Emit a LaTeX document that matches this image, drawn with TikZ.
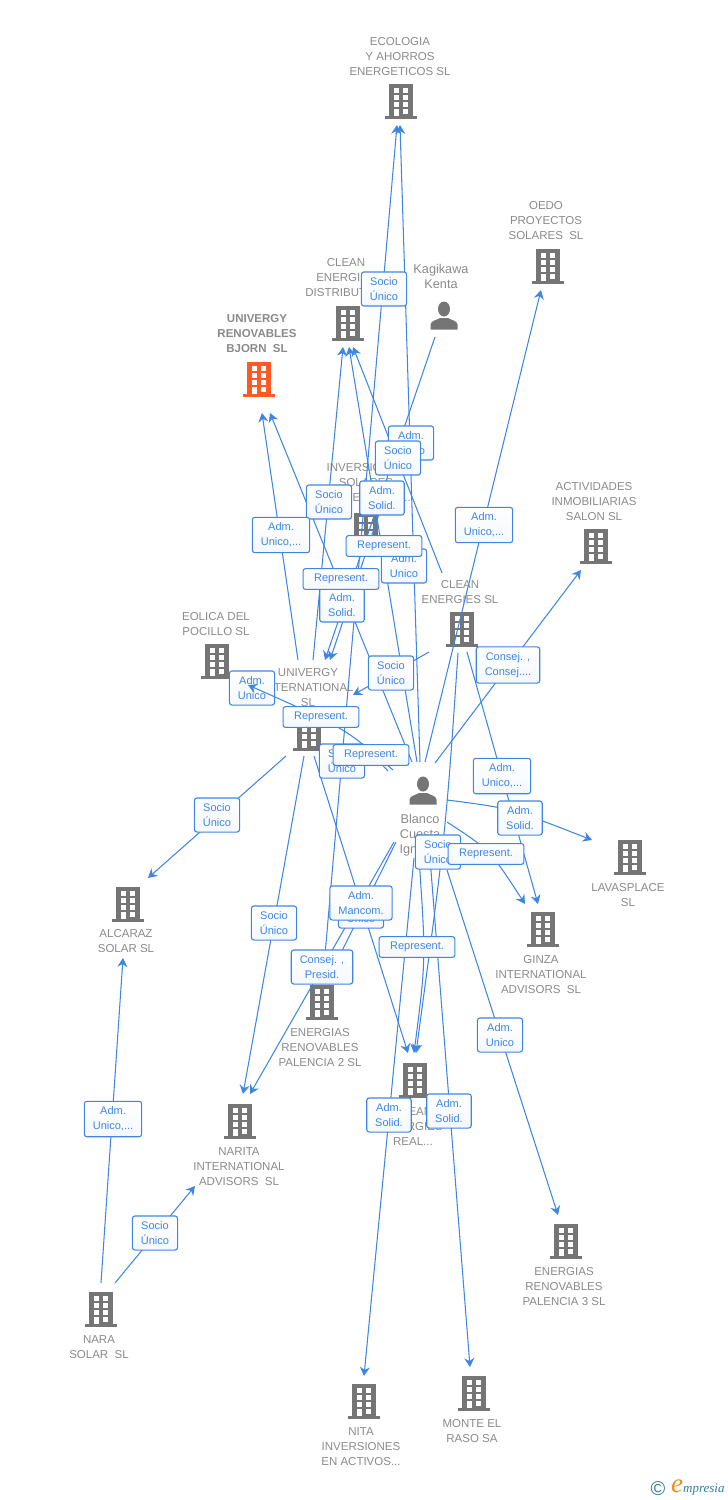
\documentclass[tikz,border=0pt]{standalone}
\usepackage{fontspec}
\setmainfont{Liberation Sans}
\newfontfamily\logofont{Liberation Serif}
\usetikzlibrary{arrows.meta}
\definecolor{linkblue}{HTML}{3F86E3}
\definecolor{iconhgray}{HTML}{757575}
\definecolor{texthgray}{HTML}{8A8A8A}
\definecolor{mainorange}{HTML}{FF5A26}
\definecolor{logoteal}{HTML}{2F7F9B}
\definecolor{logoorange}{HTML}{F08A1D}
\tikzset{
  entity/.style={text=texthgray,align=center,inner sep=0pt,font=\fontsize{11.5}{15}\selectfont},
  link/.style={draw=linkblue,line width=1.05pt},
  linkarrow/.style={link,-{Stealth[length=9pt,width=10pt,inset=3pt]}},
  tag/.style={draw=linkblue,line width=1.1pt,rounded corners=2.5pt,top color=white,bottom color=white!94!linkblue,
    text=linkblue,align=center,inner xsep=8.5pt,inner ysep=5.5pt,font=\fontsize{11}{15}\selectfont},
  tagwide/.style={tag,inner xsep=11pt},
  building/.pic={
    \fill (-12,-17) rectangle (12,15);
    \fill (-16,15) rectangle (16,17.5);
    \foreach \r in {-13,-6,1} {
      \fill[white] (-7,\r) rectangle (-2,\r+4.5);
      \fill[white] (2,\r) rectangle (7,\r+4.5);
    }
    \fill[white] (-7,8) rectangle (-2,15);
    \fill[white] (2,8) rectangle (7,12.5);
  },
  person/.pic={
    \fill (0,-7) ellipse (6 and 7.5);
    \fill (-13.5,13.5) -- (-13.5,8.5) .. controls (-13,4.5) and (-7,4) .. (-4,2) -- (4,2) .. controls (7,4) and (13,4.5) .. (13.5,8.5) -- (13.5,13.5) -- cycle;
  }
}
\begin{document}
\begin{tikzpicture}[x=1pt,y=-1pt]
  \useasboundingbox (0,0) rectangle (728,1500);
  % icons
  \pic[iconhgray] at (401,101) {building};
  \pic[iconhgray] at (548,266) {building};
  \pic[iconhgray] at (348,323) {building};
  \pic[iconhgray] at (444,316) {person};
  \pic[mainorange] at (259,379) {building};
  \pic[iconhgray] at (366,530) {building};
  \pic[iconhgray] at (596,546) {building};
  \pic[iconhgray] at (462,629) {building};
  \pic[iconhgray] at (217,661) {building};
  \pic[iconhgray] at (309,733) {building};
  \pic[iconhgray] at (423,791) {person};
  \pic[iconhgray] at (630,857) {building};
  \pic[iconhgray] at (128,904) {building};
  \pic[iconhgray] at (543,929) {building};
  \pic[iconhgray] at (322,1002) {building};
  \pic[iconhgray] at (415,1080) {building};
  \pic[iconhgray] at (240,1121) {building};
  \pic[iconhgray] at (566,1241) {building};
  \pic[iconhgray] at (101,1309) {building};
  \pic[iconhgray] at (364,1401) {building};
  \pic[iconhgray] at (474,1393) {building};
  % names
  \node[entity] (ecologia) at (400,57) {ECOLOGIA\\Y AHORROS\\ENERGETICOS SL};
  \node[entity] (oedo) at (546,221) {OEDO\\PROYECTOS\\SOLARES\ \ SL};
  \node[entity] (cleandist) at (346,278) {CLEAN\\ENERGIES\\DISTRIBUTION};
  \node[entity,font=\fontsize{12.7}{15}\selectfont] (kagikawa) at (441,276.5) {Kagikawa\\Kenta};
  \node[entity,font=\fontsize{11.5}{15}\selectfont\bfseries] (bjorn) at (257,334) {UNIVERGY\\RENOVABLES\\BJORN\ \ SL};
  \node[entity] (inversiones) at (366,483) {INVERSIONES\\SOLARES\\SOSTENIBLES...};
  \node[entity] (actividades) at (594,502) {ACTIVIDADES\\INMOBILIARIAS\\SALON SL};
  \node[entity] (cleanenergies) at (460,592.5) {CLEAN\\ENERGIES SL};
  \node[entity] (eolica) at (216,624.5) {EOLICA DEL\\POCILLO SL};
  \node[entity] (univergy) at (308,688) {UNIVERGY\\INTERNATIONAL\\SL};
  \node[entity,font=\fontsize{12.7}{15}\selectfont] (blanco) at (420,835) {Blanco\\Cuesta\\Ignacio};
  \node[entity] (lavasplace) at (628,895.5) {LAVASPLACE\\SL};
  \node[entity] (alcaraz) at (126,941.5) {ALCARAZ\\SOLAR SL};
  \node[entity] (ginza) at (541,975) {GINZA\\INTERNATIONAL\\ADVISORS\ \ SL};
  \node[entity] (energias2) at (320,1048) {ENERGIAS\\RENOVABLES\\PALENCIA 2 SL};
  \node[entity] (cleanreal) at (413,1126) {CLEAN\\ENERGIES\\REAL...};
  \node[entity] (narita) at (239,1167) {NARITA\\INTERNATIONAL\\ADVISORS\ \ SL};
  \node[entity] (energias3) at (564,1287) {ENERGIAS\\RENOVABLES\\PALENCIA 3 SL};
  \node[entity] (nara) at (99,1347.5) {NARA\\SOLAR\ \ SL};
  \node[entity] (nita) at (361,1447) {NITA\\INVERSIONES\\EN ACTIVOS...};
  \node[entity] (monte) at (472,1431.5) {MONTE EL\\RASO SA};
  % connector ends
  \coordinate (ecoTipA) at (397,125);
  \coordinate (ecoTipB) at (400,125);
  \coordinate (oedoTip) at (541,290);
  \coordinate (distTipA) at (343,347);
  \coordinate (distTipB) at (349,347);
  \coordinate (distTipC) at (353,347);
  \coordinate (bjornTipA) at (262,413);
  \coordinate (bjornTipB) at (270,413);
  \coordinate (actTip) at (581,570);
  \coordinate (uniTipA) at (325,660);
  \coordinate (uniTipB) at (330,660);
  \coordinate (uniTipC) at (353,695);
  \coordinate (eolTip) at (248,685);
  \coordinate (lavaTip) at (592,840);
  \coordinate (alcTip) at (123,958);
  \coordinate (alcUni) at (148,878);
  \coordinate (ginTipA) at (525,904);
  \coordinate (ginTipB) at (538,904);
  \coordinate (ener2End) at (330,975);
  \coordinate (ener2Up) at (323,978);
  \coordinate (realTipA) at (408,1053);
  \coordinate (realTipB) at (414,1053);
  \coordinate (realTipC) at (416,1053);
  \coordinate (narTipA) at (243,1094);
  \coordinate (narTipB) at (250,1094);
  \coordinate (narTipC) at (195,1186);
  \coordinate (ener3Tip) at (558,1215);
  \coordinate (nitaTip) at (364,1376);
  \coordinate (monteTip) at (470,1367);
  \coordinate (kagiOut) at (435,337);
  \coordinate (inverOut) at (382,505);
  \coordinate (cleanOutA) at (442,573);
  \coordinate (cleanOutB) at (429,652);
  \coordinate (cleanOutC) at (458,653);
  \coordinate (cleanOutD) at (467,652);
  \coordinate (uniOutA) at (298,660);
  \coordinate (uniOutB) at (313,660);
  \coordinate (uniOutC) at (286,756);
  \coordinate (uniOutD) at (304,756);
  \coordinate (uniOutE) at (314,756);
  \coordinate (blaA) at (412,762);
  \coordinate (blaB) at (417,762);
  \coordinate (blaC) at (420,762);
  \coordinate (blaD) at (425,762);
  \coordinate (blaE) at (435,763);
  \coordinate (blaF) at (393,770);
  \coordinate (blaG) at (388,771);
  \coordinate (blaH) at (372,754);
  \coordinate (blaI) at (447,800);
  \coordinate (blaJ) at (447,822);
  \coordinate (blaK) at (394,842);
  \coordinate (blaL) at (396,842);
  \coordinate (blaM) at (414,858);
  \coordinate (blaN) at (419,858);
  \coordinate (blaO) at (430,858);
  \coordinate (blaP) at (447,870);
  \coordinate (naraA) at (101,1283);
  \coordinate (naraB) at (115,1283);
  % one label lies under its arrow
  \node[tag] (lbEolica) at (252,688) {Adm.\\Unico};
  % connectors
  \draw[linkarrow] (ener2Up) -- (ecoTipA);
  \draw[linkarrow] (blaC) -- (ecoTipB);
  \draw[linkarrow] (blaD) -- (oedoTip);
  \draw[linkarrow] (uniOutB) -- (distTipA);
  \draw[linkarrow] (blaB) -- (distTipB);
  \draw[linkarrow] (cleanOutA) -- (distTipC);
  \draw[linkarrow] (uniOutA) -- (bjornTipA);
  \draw[linkarrow] (blaA) -- (bjornTipB);
  \draw[linkarrow] (kagiOut) -- (uniTipA);
  \draw[linkarrow] (inverOut) -- (uniTipB);
  \draw[linkarrow] (cleanOutB) -- (uniTipC);
  \draw[linkarrow] (blaE) -- (actTip);
  \draw[linkarrow] (blaF) .. controls (345,728) .. (eolTip);
  \draw[link] (blaG) -- (blaH);
  \draw[linkarrow] (blaI) .. controls (510,808) .. (lavaTip);
  \draw[linkarrow] (blaJ) .. controls (490,850) .. (ginTipA);
  \draw[linkarrow] (cleanOutD) -- (ginTipB);
  \draw[linkarrow] (uniOutC) -- (alcUni);
  \draw[linkarrow] (naraA) -- (alcTip);
  \draw[linkarrow] (uniOutD) -- (narTipA);
  \draw[linkarrow] (blaK) -- (narTipB);
  \draw[linkarrow] (naraB) -- (narTipC);
  \draw[link] (blaL) -- (ener2End);
  \draw[linkarrow] (uniOutE) -- (realTipA);
  \draw[linkarrow] (blaN) .. controls (426,960) .. (realTipB);
  \draw[linkarrow] (cleanOutC) .. controls (446,830) .. (realTipC);
  \draw[linkarrow] (blaP) -- (ener3Tip);
  \draw[linkarrow] (blaM) -- (nitaTip);
  \draw[linkarrow] (blaO) -- (monteTip);
  % labels
  \node[tag] (lbEcoA) at (384,289) {Socio\\Único};
  \node[tag] (lbUniA) at (411,443) {Adm.\\Unico};
  \node[tag] (lbDistC) at (398,458) {Socio\\Único};
  \node[tag] (lbDistA) at (329,502) {Socio\\Único};
  \node[tag] (lbUniB) at (382,498) {Adm.\\Solid.};
  \node[tag] (lbBjornA) at (281,535) {Adm.\\Unico,...};
  \node[tag] (lbOedo) at (484,525) {Adm.\\Unico,...};
  \node[tag] (lbEcoB) at (404,566) {Adm.\\Unico};
  \node[tagwide] (lbDistB) at (384,546) {Represent.};
  \node[tag] (lbKagi) at (342,605) {Adm.\\Solid.};
  \node[tagwide] (lbBjornB) at (341,579) {Represent.};
  \node[tag] (lbUniC) at (391,673) {Socio\\Único};
  \node[tag] (lbAct) at (508,665) {Consej. ,\\Consej....};
  \node[tag] (lbEcoC) at (342,761) {Socio\\Único};
  \node[tagwide] (lbEolB) at (321,717) {Represent.};
  \node[tagwide] (lbEolC) at (371,755) {Represent.};
  \node[tag] (lbGinB) at (502,776) {Adm.\\Unico,...};
  \node[tag] (lbLava) at (520,818) {Adm.\\Solid.};
  \node[tag] (lbAlcA) at (217,815) {Socio\\Único};
  \node[tag] (lbReal) at (438,852) {Socio\\Único};
  \node[tagwide] (lbGinA) at (486,854) {Represent.};
  \node[tag] (lbRealB) at (361,911) {Adm.\\Unico};
  \node[tag] (lbEner2) at (361,903) {Adm.\\Mancom.};
  \node[tag] (lbNarA) at (274,923) {Socio\\Único};
  \node[tag] (lbNarB) at (322,967) {Consej. ,\\Presid.};
  \node[tagwide] (lbRealC) at (417,947) {Represent.};
  \node[tag] (lbEner3) at (500,1035) {Adm.\\Unico};
  \node[tag] (lbNita) at (389,1115) {Adm.\\Solid.};
  \node[tag] (lbMonte) at (449,1111) {Adm.\\Solid.};
  \node[tag] (lbAlcB) at (113,1119) {Adm.\\Unico,...};
  \node[tag] (lbNarC) at (155,1233) {Socio\\Único};
  % logo
  \node[text=logoteal,inner sep=0pt,font=\fontsize{20}{20}\selectfont] (logoC) at (658,1489) {©};
  \node[text=logoorange,inner sep=0pt,font=\fontsize{27}{27}\logofont\itshape] (logoE) at (677,1486) {e};
  \node[text=logoteal,inner sep=0pt,anchor=west,font=\fontsize{13}{13}\logofont\itshape] (logoT) at (683,1490) {mpresia};
\end{tikzpicture}
\end{document}
